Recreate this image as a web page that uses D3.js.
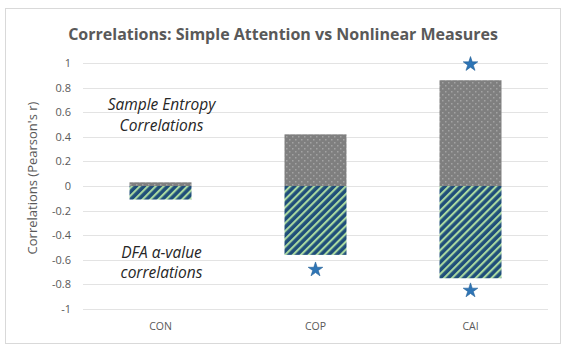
<!DOCTYPE html>
<html>
<head>
<meta charset="utf-8">
<script src="https://cdn.jsdelivr.net/npm/d3@7"></script>
<style>
  html, body { margin: 0; padding: 0; background: #fff; }
  svg { display: block; font-family: "Open Sans", "Noto Sans", sans-serif; }
</style>
</head>
<body>
<svg id="chart" width="561" height="346"></svg>
<script>
// Groups and correlation values
const categories = ["CON", "COP", "CAI"];
const sampleEntropy = [0.03, 0.42, 0.86];
const dfaAlpha = [-0.11, -0.56, -0.75];
// Significance markers: [category, value]
const starsData = [["COP", -0.68], ["CAI", 0.99], ["CAI", -0.85]];
const yTicks = [1, 0.8, 0.6, 0.4, 0.2, 0, -0.2, -0.4, -0.6, -0.8, -1];

const svg = d3.select("#chart");
const W = 561, H = 346;
const margin = { left: 83, right: 13, top: 63, bottom: 36 };

// frame
svg.append("rect").attr("x", 5.5).attr("y", 8.5).attr("width", W - 6).attr("height", H - 11)
  .attr("fill", "#fff").attr("stroke", "#d9d9d9");

const defs = svg.append("defs");
// dotted grey fill
const dots = defs.append("pattern").attr("id", "dots").attr("patternUnits", "userSpaceOnUse")
  .attr("width", 6).attr("height", 6);
dots.append("rect").attr("width", 6).attr("height", 6).attr("fill", "#7f7f7f");
dots.append("rect").attr("x", 1).attr("y", 1).attr("width", 1.5).attr("height", 1.5).attr("fill", "#a3a3a3");
dots.append("rect").attr("x", 4).attr("y", 4).attr("width", 1.5).attr("height", 1.5).attr("fill", "#a3a3a3");
// diagonal stripes
const stripes = defs.append("pattern").attr("id", "stripes").attr("patternUnits", "userSpaceOnUse")
  .attr("width", 5.6).attr("height", 5.6).attr("patternTransform", "rotate(45)");
stripes.append("rect").attr("width", 5.6).attr("height", 5.6).attr("fill", "#1f4e79");
stripes.append("rect").attr("x", 0).attr("width", 2.1).attr("height", 5.6).attr("fill", "#a9d8a0");

const x = d3.scaleBand().domain(categories).range([margin.left, W - margin.right]).paddingInner(0.6).paddingOuter(0.3);
const y = d3.scaleLinear().domain([-1, 1]).range([H - margin.bottom - 1, margin.top]);

// gridlines
svg.append("g").selectAll("line").data(yTicks).join("line")
  .attr("x1", margin.left).attr("x2", W - margin.right)
  .attr("y1", d => Math.round(y(d)) + 0.5).attr("y2", d => Math.round(y(d)) + 0.5)
  .attr("stroke", "#e3e3e3").attr("stroke-width", 1);

// y axis labels
const yAxis = d3.axisLeft(y).tickValues(yTicks).tickSize(0).tickPadding(0)
  .tickFormat(d => String(+d.toFixed(1)));
const gy = svg.append("g").attr("transform", `translate(${margin.left - 12},0)`).call(yAxis);
gy.select(".domain").remove();
gy.selectAll("text").attr("fill", "#595959").attr("font-size", 11).attr("font-family", "Open Sans, sans-serif");

// x axis labels
const xAxis = d3.axisBottom(x).tickSize(0).tickPadding(0);
const gx = svg.append("g").attr("transform", `translate(0,${H - 23})`).call(xAxis);
gx.select(".domain").remove();
gx.selectAll("text").attr("fill", "#595959").attr("font-size", 10.5).attr("font-family", "Open Sans, sans-serif");

// bars
svg.append("g").selectAll("rect").data(categories).join("rect")
  .attr("x", d => x(d)).attr("width", x.bandwidth())
  .attr("y", (d, i) => y(sampleEntropy[i])).attr("height", (d, i) => y(0) - y(sampleEntropy[i]))
  .attr("fill", "url(#dots)");
svg.append("g").selectAll("rect").data(categories).join("rect")
  .attr("x", d => x(d)).attr("width", x.bandwidth())
  .attr("y", y(0)).attr("height", (d, i) => y(dfaAlpha[i]) - y(0))
  .attr("fill", "url(#stripes)");

// stars
const star = d3.symbol().type(d3.symbolStar).size(66);
svg.append("g").selectAll("path").data(starsData).join("path")
  .attr("d", star)
  .attr("transform", d => `translate(${x(d[0]) + x.bandwidth() / 2},${y(d[1])})`)
  .attr("fill", "#2e75b6").attr("stroke", "#245f96").attr("stroke-width", 0.6);

// annotations
const cx = x("CON") + x.bandwidth() / 2 + 1;
const ann = [["Sample Entropy", 110], ["Correlations", 131], ["DFA α-value", 258], ["correlations", 278]];
svg.append("g").selectAll("text").data(ann).join("text")
  .attr("x", cx).attr("y", d => d[1]).attr("text-anchor", "middle")
  .attr("font-size", 15.5).attr("font-style", "italic").attr("fill", "#262626")
  .text(d => d[0]);

// title
svg.append("text").attr("x", 283).attr("y", 40).attr("text-anchor", "middle")
  .attr("font-size", 16).attr("font-weight", "bold").attr("fill", "#595959")
  .text("Correlations: Simple Attention vs Nonlinear Measures");

// y axis title
svg.append("text").attr("transform", `translate(37,178) rotate(-90)`)
  .attr("text-anchor", "middle").attr("font-size", 13).attr("fill", "#595959")
  .text("Correlations (Pearson's r)");
</script>
</body>
</html>
